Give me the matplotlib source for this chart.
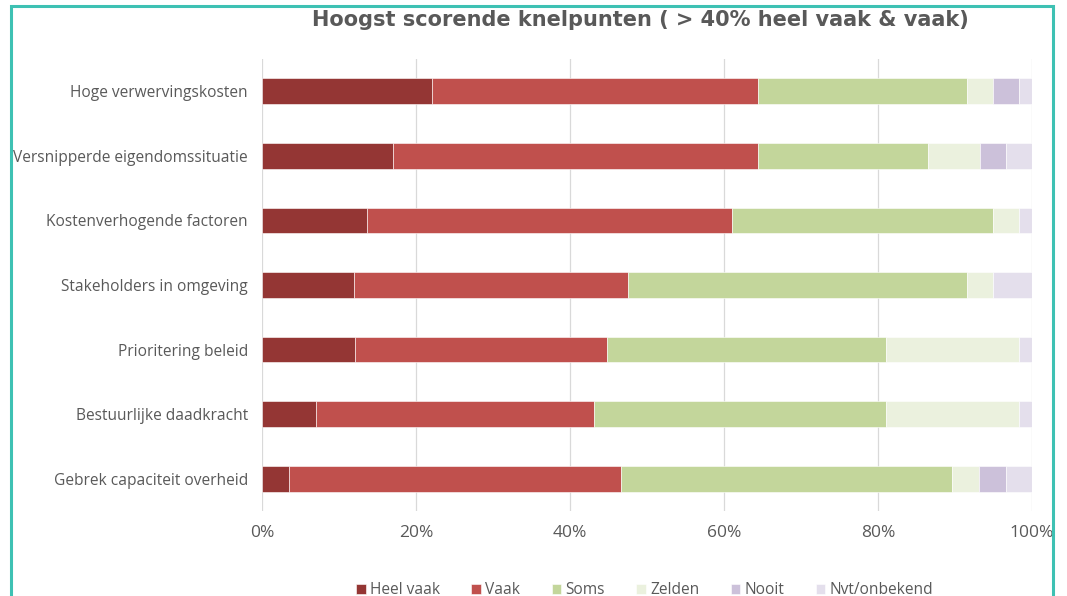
import numpy as np
import matplotlib.pyplot as plt
from matplotlib.patches import Rectangle

categories = ["Hoge verwervingskosten", "Versnipperde eigendomssituatie",
              "Kostenverhogende factoren", "Stakeholders in omgeving",
              "Prioritering beleid", "Bestuurlijke daadkracht",
              "Gebrek capaciteit overheid"]
series = ["Heel vaak", "Vaak", "Soms", "Zelden", "Nooit", "Nvt/onbekend"]
heel_vaak = [22.1, 17.0, 13.6, 11.9, 12.1, 7.0, 3.5]
vaak = [42.3, 47.4, 47.4, 35.6, 32.7, 36.1, 43.1]
soms = [27.2, 22.1, 33.9, 44.1, 36.2, 37.9, 43.0]
zelden = [3.3, 6.7, 3.4, 3.3, 17.3, 17.3, 3.5]
nooit = [3.4, 3.4, 0.0, 0.0, 0.0, 0.0, 3.5]
nvt = [1.7, 3.4, 1.7, 5.1, 1.7, 1.7, 3.4]
colors = ["#943634", "#C0504D", "#C3D69B", "#EBF1DE", "#CCC1DA", "#E4DFEC"]

plt.rcParams['font.family'] = ['Open Sans', 'DejaVu Sans']
grey = "#595959"

fig = plt.figure(figsize=(10.67, 5.96), dpi=100)
ax = fig.add_axes([262/1067, 1-511/596, 770/1067, 452/596])

data = np.array([heel_vaak, vaak, soms, zelden, nooit, nvt])
y = np.arange(len(categories))[::-1]
left = np.zeros(len(categories))
for vals, name, col in zip(data, series, colors):
    ax.barh(y, vals, left=left, height=0.4, color=col, label=name,
            edgecolor="white", linewidth=0.4, zorder=3)
    left += vals

ax.set_xlim(0, 100)
ax.set_ylim(-0.5, len(categories) - 0.5)
ax.set_yticks(y)
ax.set_yticklabels(categories, fontsize=11.2, color=grey)
ax.set_xticks(np.arange(0, 101, 20))
ax.set_xticklabels([f"{v}%" for v in range(0, 101, 20)], fontsize=12.5, color=grey)
ax.tick_params(axis='both', length=0)
ax.tick_params(axis='y', pad=10)
ax.tick_params(axis='x', pad=10)
ax.grid(axis='x', color="#D9D9D9", linewidth=0.9, zorder=0)
for s in ax.spines.values():
    s.set_visible(False)

fig.text(0.6, 1-20/596, "Hoogst scorende knelpunten ( > 40% heel vaak & vaak)",
         ha='center', va='center', fontsize=15, fontweight='bold', color=grey,
         family=['DejaVu Sans'])

ax.legend(loc='center', bbox_to_anchor=(0.497, -0.175), ncol=6, frameon=False,
          fontsize=11.2, handlelength=0.6, handleheight=0.6, handletextpad=0.3,
          columnspacing=2.0, labelcolor=grey)

fig.add_artist(Rectangle((11/1067, -0.05), 1042/1067, 1.05 - 6/596,
                         transform=fig.transFigure, fill=False,
                         edgecolor="#3EC1B3", linewidth=2.2))

fig.savefig("out.png", dpi=100, facecolor="white")
